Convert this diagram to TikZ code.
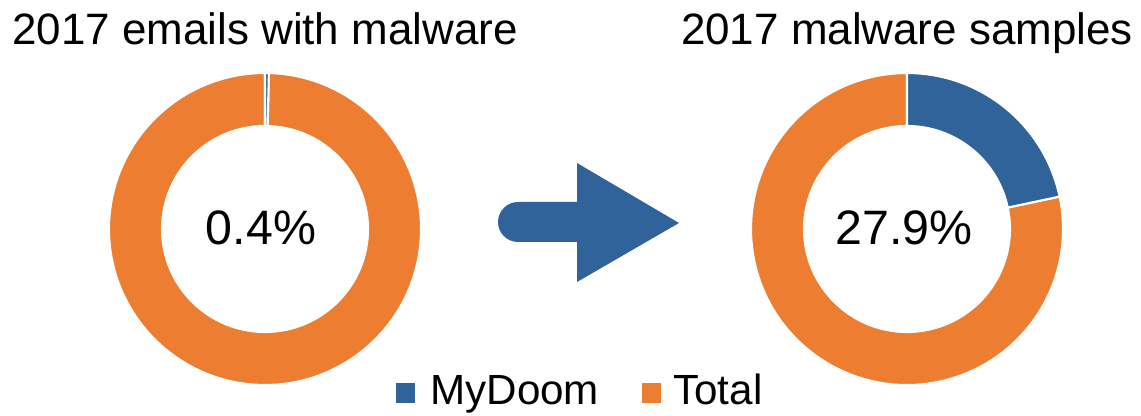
\documentclass[tikz,border=0pt]{standalone}
\usepackage{fontspec}
\setmainfont{Liberation Sans}
\usetikzlibrary{positioning}
\definecolor{mydoom}{HTML}{2F6399}
\definecolor{total}{HTML}{ED7D31}

\begin{document}
\begin{tikzpicture}[
  x=0.2mm, y=0.2mm,
  seg/.style={draw=white, line width=1.2pt},
  title/.style={font=\fontsize{25}{30}\selectfont, anchor=base},
  pct/.style={font=\fontsize{27.5}{32}\selectfont, anchor=base},
  lgd/.style={font=\fontsize{24}{28}\selectfont, anchor=base west, inner sep=0pt},
]
\useasboundingbox (0,0) rectangle (1141,416);

% ---------------- left donut (emails)
\begin{scope}[shift={(265,187)}]
  \fill[seg, fill=total]  (88.56:156) arc (88.56:-270:156) -- (-270:103) arc (-270:88.56:103) -- cycle;
  \fill[seg, fill=mydoom] (90:156) arc (90:88.56:156) -- (88.56:103) arc (88.56:90:103) -- cycle;
\end{scope}
\node[title] (ttl1) at (265,371) {2017 emails with malware};
\node[pct]   (pct1) at (261,171) {0.4\%};

% ---------------- right donut (samples)
\begin{scope}[shift={(907,187)}]
  \fill[seg, fill=total]  (12:156) arc (12:-270:156) -- (-270:103) arc (-270:12:103) -- cycle;
  \fill[seg, fill=mydoom] (90:156) arc (90:12:156) -- (12:103) arc (12:90:103) -- cycle;
\end{scope}
\node[title] (ttl2) at (907,371) {2017 malware samples};
\node[pct]   (pct2) at (904,171) {27.9\%};

% ---------------- arrow
\fill[mydoom] (577,214) -- (577,253) -- (679,193) -- (577,134) -- (577,174)
  -- (518,174) arc (270:90:20) -- cycle;

% ---------------- legend
\fill[mydoom] (396,13) rectangle (415,33);
\node[lgd] (lmd) at (430,11) {MyDoom};
\fill[total] (642,13) rectangle (661,33);
\node[lgd] (ltot) at (673,11) {Total};

\end{tikzpicture}
\end{document}
